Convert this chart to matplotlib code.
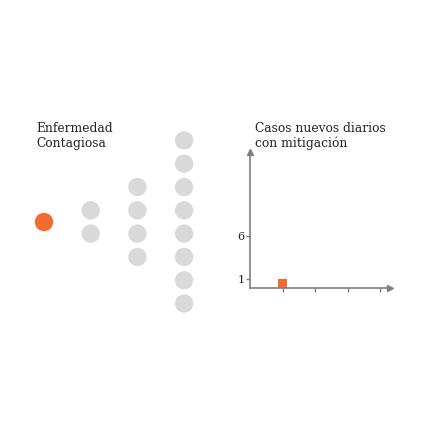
import matplotlib.pyplot as plt

# infection tree: number of people per generation (first one is infected)
generations = [1, 2, 4, 8]

# daily new cases with mitigation
days = [1]
cases = [1]
y_ticks = [1, 6]
x_ticks = [1, 2, 3, 4]

orange = '#f26a2e'
grey = '#d9d9d9'
axis_grey = '#7f7f7f'
W, H = 432, 421

fig = plt.figure(figsize=(W / 100, H / 100), dpi=100)
plt.rcParams['font.family'] = ['DejaVu Serif']

# left panel in pixel coordinates
ax1 = fig.add_axes([0, 0, 1, 1])
ax1.set_xlim(0, W)
ax1.set_ylim(H, 0)
ax1.axis('off')
for g, n in enumerate(generations):
    xs = [44 + g * 46.7] * n
    ys = [222 + (k - (n - 1) / 2) * 23.3 for k in range(n)]
    color = orange if g == 0 else grey
    ax1.scatter(xs, ys, s=175, color=color, edgecolors='none')
ax1.text(36, 122, 'Enfermedad\nContagiosa', fontsize=8.8, color='#222222',
         va='top', ha='left', linespacing=1.15)
ax1.text(255, 122, 'Casos nuevos diarios\ncon mitigación', fontsize=8.8,
         color='#222222', va='top', ha='left', linespacing=1.15)

# right panel: small chart
ax2 = fig.add_axes([250 / W, (H - 288) / H, 140 / W, 136 / H])
ax2.bar(days, cases, width=0.3, color=orange)
ax2.set_xlim(0, 4.3)
ax2.set_ylim(0, 15.8)
ax2.set_yticks(y_ticks)
ax2.set_xticks(x_ticks)
ax2.set_xticklabels([])
ax2.tick_params(axis='both', colors=axis_grey, length=3, width=1,
                labelcolor='#222222', labelsize=8, pad=1)
ax2.spines['top'].set_visible(False)
ax2.spines['right'].set_visible(False)
for s in ['left', 'bottom']:
    ax2.spines[s].set_color(axis_grey)
    ax2.spines[s].set_linewidth(1.2)
ax2.plot(1, 0, '>', color=axis_grey, markersize=4, transform=ax2.transAxes, clip_on=False)
ax2.plot(0, 1, '^', color=axis_grey, markersize=4, transform=ax2.transAxes, clip_on=False)
ax2.patch.set_alpha(0)

fig.savefig('out.png', dpi=100)
